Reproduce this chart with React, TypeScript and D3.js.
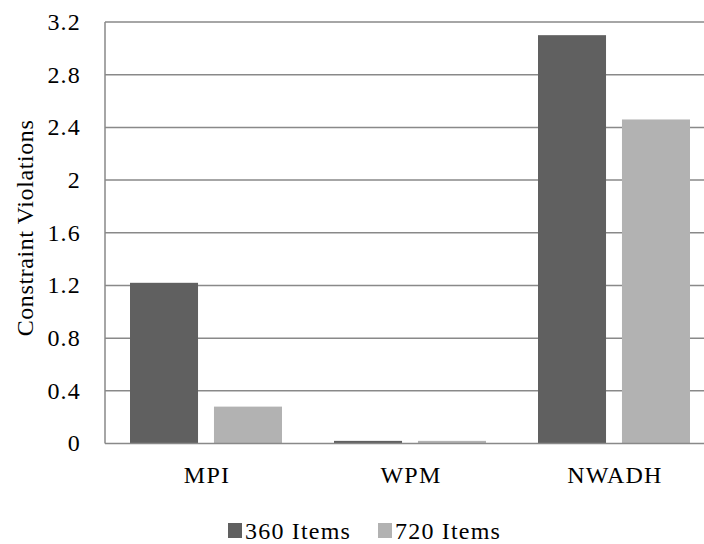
import React from "react";
import * as d3 from "d3";

const categories = ["MPI", "WPM", "NWADH"];
const seriesNames = ["360 Items", "720 Items"];
const series360 = [1.22, 0.02, 3.1];
const series720 = [0.28, 0.02, 2.46];
const yTicks = [0, 0.4, 0.8, 1.2, 1.6, 2, 2.4, 2.8, 3.2];
const colors = ["#606060", "#b2b2b2"];

export default function App() {
  const W = 704, H = 544;
  const left = 105, right = 717, top = 22, bottom = 443.5;
  const x = d3.scaleBand<string>().domain(categories).range([left, right]).paddingInner(0).paddingOuter(0);
  const inner = d3.scaleBand<string>().domain(seriesNames).range([25, x.bandwidth() - 27]).paddingInner(0.19);
  const y = d3.scaleLinear().domain([0, 3.2]).range([bottom, top]);
  const ts: React.CSSProperties = { fontFamily: '"Liberation Serif"', fontSize: "24px", letterSpacing: "1.2px" };
  const data = [series360, series720];
  return (
    <div style={{ position: "absolute", left: 0, top: 0 }}>
      <svg width={W} height={H} style={{ display: "block", background: "#fff" }}>
        {yTicks.map((t) => (
          <g key={t}>
            {t !== 0 && (
              <line x1={left} x2={right} y1={y(t)} y2={y(t)} stroke="#898989" strokeWidth={1.5} />
            )}
            <text x={81} y={y(t)} dy="0.33em" textAnchor="end" style={ts} fill="#000">
              {d3.format("~g")(t)}
            </text>
          </g>
        ))}
        {categories.map((c, i) => (
          <g key={c}>
            {data.map((s, j) => (
              <rect
                key={j}
                x={(x(c) as number) + (inner(seriesNames[j]) as number)}
                width={inner.bandwidth()}
                y={y(s[i])}
                height={bottom - y(s[i])}
                fill={colors[j]}
              />
            ))}
            <text x={(x(c) as number) + x.bandwidth() / 2} y={483} textAnchor="middle" style={ts} fill="#000">
              {c}
            </text>
          </g>
        ))}
        <line x1={left} x2={left} y1={top} y2={bottom} stroke="#898989" strokeWidth={1.5} />
        <line x1={left} x2={right} y1={bottom} y2={bottom} stroke="#898989" strokeWidth={1.5} />
        <text transform={`translate(33,228) rotate(-90)`} textAnchor="middle" style={{ ...ts, letterSpacing: "0.6px" }} fill="#000">
          Constraint Violations
        </text>
        {seriesNames.map((n, j) => (
          <g key={n} transform={`translate(${j === 0 ? 228 : 378},523)`}>
            <rect x={0} y={0} width={14} height={15} fill={colors[j]} />
            <text x={17} y={16} style={ts} fill="#000">{n}</text>
          </g>
        ))}
      </svg>
    </div>
  );
}
